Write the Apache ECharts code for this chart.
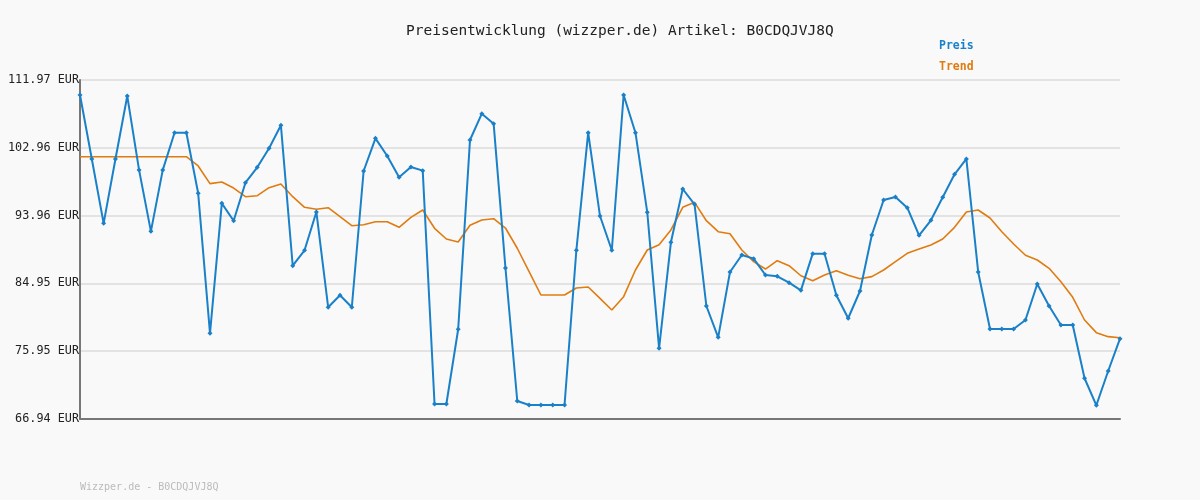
<!DOCTYPE html>
<html><head><meta charset="utf-8">
<script src="https://cdn.jsdelivr.net/npm/echarts@6/dist/echarts.min.js"></script>
<style>html,body{margin:0;padding:0;background:#f9f9f9}#c{width:1200px;height:500px}</style>
</head><body><div id="c"></div>
<script>
const titleText = 'Preisentwicklung (wizzper.de) Artikel: B0CDQJVJ8Q';
const footerText = 'Wizzper.de - B0CDQJVJ8Q';
const yMin = 66.94, yMax = 111.97, yStep = 9.006;
const preis = [109.98,101.48,92.93,101.48,109.84,100.0,91.87,100.0,104.97,104.97,
96.92,78.32,95.59,93.28,98.33,100.37,102.9,105.95,87.3,89.35,
94.44,81.78,83.37,81.78,99.88,104.22,101.87,99.05,100.41,99.93,
68.93,68.93,78.86,104.0,107.5,106.17,87.0,69.33,68.8,68.8,
68.8,68.8,89.35,104.97,93.9,89.35,109.98,104.97,94.4,76.33,
90.41,97.49,95.46,81.95,77.79,86.47,88.73,88.24,86.07,85.89,
85.05,84.03,88.9,88.9,83.37,80.32,83.94,91.38,96.03,96.43,
95.01,91.34,93.33,96.39,99.44,101.48,86.47,78.9,78.9,78.9,
80.09,84.87,81.95,79.43,79.43,72.35,68.76,73.32,77.61];
const trend = [101.78,101.78,101.78,101.78,101.78,101.78,101.78,101.78,101.78,101.78,
100.55,98.2,98.42,97.62,96.47,96.6,97.67,98.16,96.47,95.06,
94.8,95.01,93.82,92.62,92.75,93.15,93.15,92.4,93.73,94.7,
92.27,90.85,90.45,92.67,93.37,93.55,92.31,89.62,86.52,83.41,
83.41,83.41,84.34,84.47,82.97,81.42,83.19,86.73,89.39,90.09,
92.05,95.06,95.72,93.28,91.82,91.55,89.39,87.84,86.86,87.97,
87.3,85.97,85.31,86.07,86.64,86.03,85.58,85.85,86.73,87.84,
88.95,89.52,90.05,90.85,92.4,94.44,94.7,93.64,91.82,90.19,
88.69,88.06,86.96,85.18,83.1,80.09,78.41,77.88,77.74];
const cats = preis.map((_, i) => String(i + 1));
const mono = 'DejaVu Sans Mono';
const chart = echarts.init(document.getElementById('c'));
chart.setOption({
  backgroundColor: '#f9f9f9',
  animation: false,
  title: { text: titleText, left: 401, top: 19,
    textStyle: { fontFamily: mono, fontSize: 14.5, fontWeight: 'normal', color: '#222' } },
  graphic: [
    { type: 'text', left: 939, top: 40, style: { text: 'Preis', fill: '#1a80c8', font: 'bold 11.5px "DejaVu Sans Mono"' } },
    { type: 'text', left: 939, top: 61, style: { text: 'Trend', fill: '#e07b10', font: 'bold 11.5px "DejaVu Sans Mono"' } },
    { type: 'text', left: 80, top: 482, style: { text: footerText, fill: '#bbb', font: '10px "DejaVu Sans Mono"' } }
  ],
  grid: { left: 80, right: 80, top: 80, bottom: 81 },
  xAxis: { type: 'category', data: cats, boundaryGap: false,
    axisLine: { lineStyle: { color: '#777', width: 2 } },
    axisTick: { show: false }, axisLabel: { show: false }, splitLine: { show: false } },
  yAxis: { type: 'value', min: yMin, max: yMax, interval: yStep,
    axisLine: { show: true, lineStyle: { color: '#777', width: 2 } },
    axisTick: { show: false },
    splitLine: { lineStyle: { color: '#e3e3e3', width: 2 } },
    axisLabel: { formatter: v => v.toFixed(2) + ' EUR', fontFamily: mono, fontSize: 11.8, color: '#222', margin: 1, align: 'right' } },
  series: [
    { name: 'Trend', type: 'line', data: trend, symbol: 'none', z: 2,
      lineStyle: { color: '#e07b10', width: 1.6 } },
    { name: 'Preis', type: 'line', data: preis, symbol: 'diamond', symbolSize: 5, z: 3,
      itemStyle: { color: '#1a80c8' }, lineStyle: { color: '#1a80c8', width: 2 } }
  ]
});
</script></body></html>
